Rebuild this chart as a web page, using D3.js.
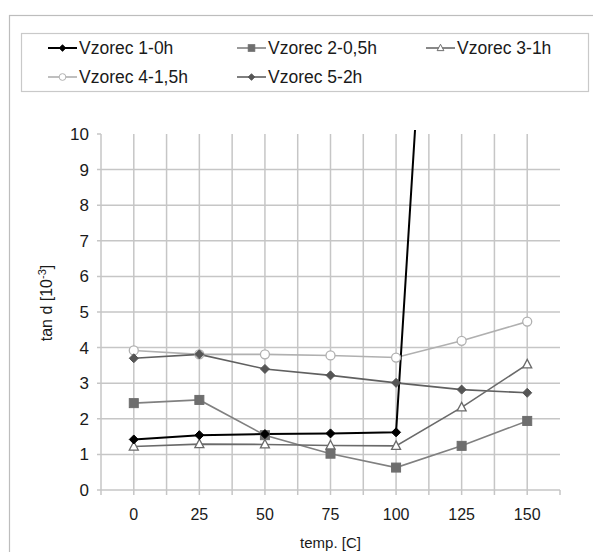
<!DOCTYPE html>
<html><head><meta charset="utf-8">
<script src="https://cdn.jsdelivr.net/npm/d3@7"></script>
<style>body{margin:0;background:#fff;} svg{display:block;font-family:"Liberation Sans",Arial,sans-serif;}</style>
</head><body>
<script>
const categories = ["0","25","50","75","100","125","150"];
const yTicks = [0,1,2,3,4,5,6,7,8,9,10];
const seriesNames = ["Vzorec 1-0h","Vzorec 2-0,5h","Vzorec 3-1h","Vzorec 4-1,5h","Vzorec 5-2h"];
const s1 = [1.42,1.54,1.57,1.59,1.62,31,null];
const s2 = [2.44,2.53,1.54,1.02,0.63,1.24,1.94];
const s3 = [1.22,1.29,1.28,1.25,1.24,2.32,3.53];
const s4 = [3.92,3.81,3.81,3.78,3.72,4.19,4.73];
const s5 = [3.70,3.81,3.40,3.22,3.01,2.82,2.73];

(function(){
const series = [
  {name:seriesNames[0], values:s1, line:"#000", sym:"diamond", fill:"#000", stroke:"#000", w:2},
  {name:seriesNames[1], values:s2, line:"#808080", sym:"square", fill:"#6e6e6e", stroke:"#6e6e6e", w:1.6},
  {name:seriesNames[2], values:s3, line:"#6a6a6a", sym:"triangle", fill:"#fff", stroke:"#6a6a6a", w:1.6},
  {name:seriesNames[3], values:s4, line:"#b0b0b0", sym:"circle", fill:"#fff", stroke:"#b0b0b0", w:1.6},
  {name:seriesNames[4], values:s5, line:"#606060", sym:"diamond", fill:"#555", stroke:"#555", w:1.6}
];

const W=593,H=552;
const svg=d3.select("body").append("svg").attr("width",W).attr("height",H);
svg.append("rect").attr("x",9.5).attr("y",15.5).attr("width",W).attr("height",H).attr("fill","none").attr("stroke","#bdbdbd").attr("stroke-width",1.2);

const pL=101,pR=560,pT=134,pB=490;
const x=d3.scaleBand().domain(categories).range([pL,pR]).paddingInner(0).paddingOuter(0);
const bw=x.bandwidth();
const cx=c=>x(c)+bw/2;
const y=d3.scaleLinear().domain([0,10]).range([pB,pT]);

const grid="#c6c6c6";
const g=svg.append("g");
yTicks.forEach(t=>{
  g.append("line").attr("x1",pL-4).attr("x2",t===10?pL:pR).attr("y1",y(t)).attr("y2",y(t)).attr("stroke",grid).attr("stroke-width",1.5);
});
const boundaries = categories.map(c=>x(c)).concat([pR]);
boundaries.forEach((bx,i)=>{
  const yTop = (i===boundaries.length-1)? pB : pT;
  g.append("line").attr("x1",bx).attr("x2",bx).attr("y1",yTop).attr("y2",pB+5).attr("stroke",grid).attr("stroke-width",1.5);
});
categories.forEach(c=>{
  g.append("line").attr("x1",cx(c)).attr("x2",cx(c)).attr("y1",pT).attr("y2",pB+5).attr("stroke",grid).attr("stroke-width",1.5);
});

const yAxis=d3.axisLeft(y).tickValues(yTicks).tickSize(0).tickPadding(12);
const ya=svg.append("g").attr("transform",`translate(${pL},0)`).call(yAxis);
ya.select(".domain").remove();
ya.selectAll("text").attr("font-size","17px").attr("fill","#1a1a1a").attr("font-family","Liberation Sans, Arial");

const xAxis=d3.axisBottom(x).tickSize(0).tickPadding(19);
const xa=svg.append("g").attr("transform",`translate(0,${pB})`).call(xAxis);
xa.select(".domain").remove();
xa.selectAll("text").attr("font-size","16px").attr("fill","#1a1a1a").attr("font-family","Liberation Sans, Arial");

svg.append("text").attr("x",(pL+pR)/2).attr("y",548).attr("text-anchor","middle").attr("font-size","15px").attr("fill","#1a1a1a").text("temp. [C]");
const yt=svg.append("text").attr("transform",`translate(52,${(pT+pB)/2-9}) rotate(-90)`).attr("text-anchor","middle").attr("font-size","16px").attr("fill","#1a1a1a");
yt.append("tspan").text("tan d [10");
yt.append("tspan").attr("dy",-6).attr("font-size","11px").text("-3");
yt.append("tspan").attr("dy",6).text("]");

svg.append("clipPath").attr("id","clip").append("rect").attr("x",0).attr("y",pT-4).attr("width",W).attr("height",H);

const line=d3.line().defined(d=>d.v!=null).x(d=>cx(d.c)).y(d=>y(d.v));
const plot=svg.append("g").attr("clip-path","url(#clip)");

function drawSym(sel,sym,px,py,fill,stroke){
  if(sym==="diamond"){
    sel.append("path").attr("d",`M${px},${py-4.5}L${px+4.5},${py}L${px},${py+4.5}L${px-4.5},${py}Z`).attr("fill",fill).attr("stroke",stroke).attr("stroke-width",1);
  } else if(sym==="square"){
    sel.append("rect").attr("x",px-4.5).attr("y",py-4.5).attr("width",9).attr("height",9).attr("fill",fill).attr("stroke",stroke).attr("stroke-width",1);
  } else if(sym==="triangle"){
    sel.append("path").attr("d",`M${px},${py-5}L${px+4.5},${py+3.5}L${px-4.5},${py+3.5}Z`).attr("fill",fill).attr("stroke",stroke).attr("stroke-width",1.3);
  } else if(sym==="circle"){
    sel.append("circle").attr("cx",px).attr("cy",py).attr("r",4.5).attr("fill",fill).attr("stroke",stroke).attr("stroke-width",1.3);
  }
}

const order=[3,4,1,2,0];
order.forEach(i=>{
  const s=series[i];
  const data=categories.map((c,j)=>({c:c,v:s.values[j]}));
  plot.append("path").datum(data).attr("d",line).attr("fill","none").attr("stroke",s.line).attr("stroke-width",s.w);
});
order.forEach(i=>{
  const s=series[i];
  categories.forEach((c,j)=>{
    const v=s.values[j];
    if(v==null||v>10) return;
    drawSym(plot,s.sym,cx(c),y(v),s.fill,s.stroke);
  });
});

svg.append("rect").attr("x",21.5).attr("y",33.5).attr("width",567).attr("height",58).attr("fill","#fff").attr("stroke","#c9c9c9").attr("stroke-width",1.2);
const legPos=[[48,48],[237,48],[426,48],[48,77],[237,77]];
series.forEach((s,i)=>{
  const [lx,ly]=legPos[i];
  svg.append("line").attr("x1",lx).attr("x2",lx+29).attr("y1",ly).attr("y2",ly).attr("stroke",s.line).attr("stroke-width",s.w);
  const gg=svg.append("g").attr("transform",`translate(${lx+14.5},${ly}) scale(0.75)`);
  drawSym(gg,s.sym,0,0,s.fill,s.stroke);
  svg.append("text").attr("x",lx+31).attr("y",ly+6).attr("font-size","17.5px").attr("fill","#1a1a1a").text(s.name);
});
})();
</script>
</body></html>
